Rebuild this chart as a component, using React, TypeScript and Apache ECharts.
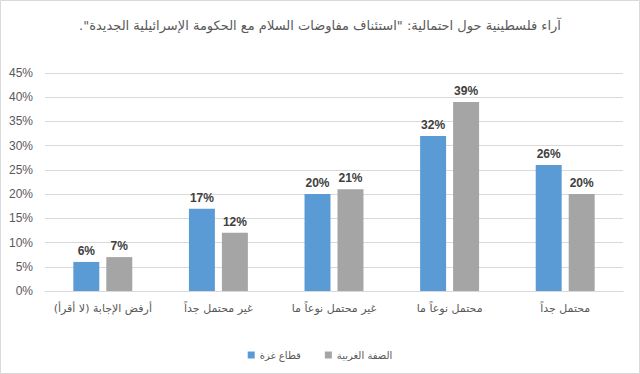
import React, { useEffect, useRef } from "react";
import * as echarts from "echarts";

const RLM = "\u200F";
const titleText = 'آراء فلسطينية حول احتمالية: "استئناف مفاوضات السلام مع الحكومة الإسرائيلية الجديدة".';
const categories = [
  "أرفض الإجابة (لا أقرأ)",
  "غير محتمل جداً",
  "غير محتمل نوعاً ما",
  "محتمل نوعاً ما",
  "محتمل جداً",
];
const gazaName = "قطاع غزة";
const westBankName = "الضفة الغربية";
const gazaValues = [6, 17, 20, 32, 26];
const westBankValues = [7, 12, 21, 39, 20];
const yMax = 45;
const yInterval = 5;

const FONT = "Liberation Sans, DejaVu Sans, sans-serif";
const AR_FONT = "DejaVu Sans, sans-serif";

export default function App() {
  const ref = useRef<HTMLDivElement>(null);
  useEffect(() => {
    if (!ref.current) return;
    const chart = echarts.init(ref.current, null, { renderer: "svg" });
    const label = {
      show: true,
      position: "top",
      distance: 5,
      formatter: "{c}%",
      color: "#404040",
      fontSize: 12,
      fontWeight: "bold",
      fontFamily: FONT,
    };
    chart.setOption({
      animation: false,
      backgroundColor: "#ffffff",
      title: {
        text: RLM + titleText + RLM,
        left: "center",
        top: 14,
        textStyle: { color: "#595959", fontSize: 13, fontWeight: "normal", fontFamily: AR_FONT },
      },
      graphic: [
        {
          type: "rect",
          shape: { x: 0.5, y: 0.5, width: 639, height: 373 },
          style: { fill: "none", stroke: "#d9d9d9", lineWidth: 1 },
          silent: true,
        },
      ],
      legend: {
        data: [gazaName, westBankName],
        left: "center",
        top: 345,
        itemWidth: 7,
        itemHeight: 7,
        itemGap: 24,
        icon: "rect",
        formatter: (n: string) => RLM + n + RLM,
        textStyle: { color: "#595959", fontSize: 10, fontFamily: AR_FONT },
      },
      grid: { left: 45, right: 17, top: 73, bottom: 83, containLabel: false },
      xAxis: {
        type: "category",
        data: categories,
        axisLine: { lineStyle: { color: "#d9d9d9" } },
        axisTick: { show: false },
        axisLabel: {
          color: "#595959",
          fontSize: 11,
          fontFamily: AR_FONT,
          margin: 12,
          interval: 0,
          formatter: (v: string) => RLM + v + RLM,
        },
      },
      yAxis: {
        type: "value",
        min: 0,
        max: yMax,
        interval: yInterval,
        axisLine: { show: false },
        axisTick: { show: false },
        splitLine: { lineStyle: { color: "#d9d9d9" } },
        axisLabel: { color: "#595959", fontSize: 12, fontFamily: FONT, formatter: "{value}%", margin: 12 },
      },
      series: [
        {
          name: gazaName,
          type: "bar",
          data: gazaValues,
          itemStyle: { color: "#5b9bd5" },
          barGap: "27%",
          barCategoryGap: "49%",
          label,
        },
        {
          name: westBankName,
          type: "bar",
          data: westBankValues,
          itemStyle: { color: "#a5a5a5" },
          label,
        },
      ],
    });
    return () => chart.dispose();
  }, []);
  return (
    <div
      ref={ref}
      style={{ position: "absolute", left: 0, top: 0, width: 640, height: 374 }}
    />
  );
}
